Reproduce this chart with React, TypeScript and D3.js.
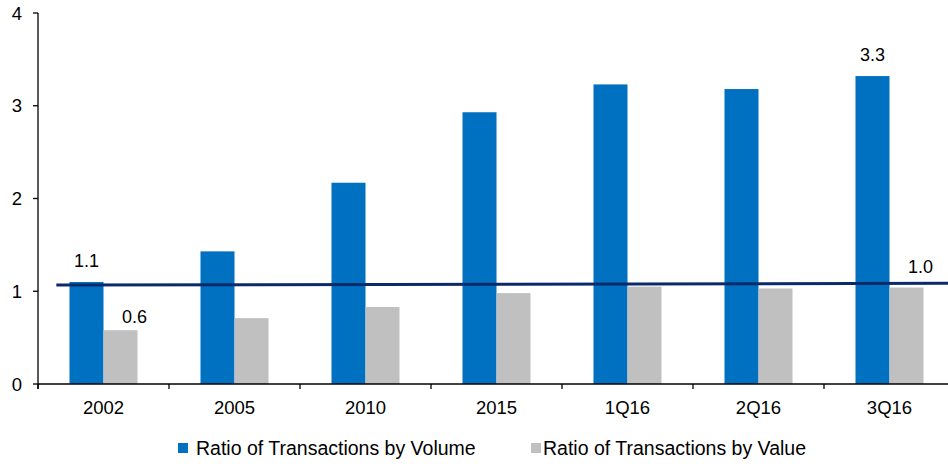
import React, { useEffect, useRef } from 'react';
import * as d3 from 'd3';

const categories = ['2002', '2005', '2010', '2015', '1Q16', '2Q16', '3Q16'];
const volumeValues = [1.1, 1.43, 2.17, 2.93, 3.23, 3.18, 3.32];
const valueValues = [0.58, 0.71, 0.83, 0.98, 1.05, 1.03, 1.04];
const seriesNames = ['Ratio of Transactions by Volume', 'Ratio of Transactions by Value'];
const seriesColors = ['#0070C0', '#C0C0C0'];
const yTicks = [0, 1, 2, 3, 4];
const trendValues = [1.067, 1.085];
const labelledCategories = ['2002', '3Q16'];

const W = 948;
const H = 464;

const App = () => {
    const ref = useRef<SVGSVGElement>(null);

    useEffect(() => {
        document.body.style.margin = '0';
        const svg = d3.select(ref.current);
        svg.selectAll('*').remove();

        const left = 38;
        const step = 131;
        const x0 = d3.scaleBand().domain(categories).range([left, left + step * categories.length]);
        const x1 = d3.scaleBand().domain(seriesNames).range([0, x0.bandwidth()]).paddingOuter(0.926);
        const y = d3.scaleLinear().domain([0, 4]).range([384, 13]);

        const rows = categories.map((c, i) => ({ cat: c, vals: [volumeValues[i], valueValues[i]] }));

        const font = 'Liberation Sans, Arial, sans-serif';

        // bars
        const groups = svg.append('g').selectAll('g')
            .data(rows)
            .enter()
            .append('g')
            .attr('transform', d => `translate(${x0(d.cat)},0)`);

        groups.selectAll('rect')
            .data(d => d.vals.map((v, k) => ({ v, k })))
            .enter()
            .append('rect')
            .attr('x', d => x1(seriesNames[d.k]) as number)
            .attr('y', d => y(d.v))
            .attr('width', x1.bandwidth())
            .attr('height', d => y(0) - y(d.v))
            .attr('fill', d => seriesColors[d.k]);

        // value labels
        groups.filter(d => labelledCategories.includes(d.cat))
            .selectAll('text')
            .data(d => d.vals.map((v, k) => ({ v, k })))
            .enter()
            .append('text')
            .attr('text-anchor', 'middle')
            .attr('x', d => (x1(seriesNames[d.k]) as number) + x1.bandwidth() / 2 + (d.k === 1 ? 14 : 0))
            .attr('y', d => y(d.v) - (d.k === 1 && d.v < 0.8 ? 7 : 15))
            .style('font-family', font)
            .style('font-size', '18px')
            .attr('fill', '#000')
            .text(d => d.v.toFixed(1));

        // trend line
        const xStart = (x0(categories[0]) as number) + x0.bandwidth() * 0.14;
        const tx = d3.scaleLinear().domain([0, trendValues.length - 1]).range([xStart, W]);
        svg.append('path')
            .datum(trendValues)
            .attr('d', d3.line<number>().x((d, i) => tx(i)).y(d => y(d)))
            .attr('fill', 'none')
            .attr('stroke', '#0C2A6A')
            .attr('stroke-width', 3);

        // y axis
        const yAxis = svg.append('g');
        yAxis.append('line')
            .attr('x1', left).attr('x2', left)
            .attr('y1', y(4)).attr('y2', y(0) + 5)
            .attr('stroke', '#000').attr('stroke-width', 1.3);
        yAxis.selectAll('.tick')
            .data(yTicks)
            .enter()
            .append('line')
            .attr('x1', left - 5).attr('x2', left)
            .attr('y1', d => y(d)).attr('y2', d => y(d))
            .attr('stroke', '#000').attr('stroke-width', 1.3);
        yAxis.selectAll('text')
            .data(yTicks)
            .enter()
            .append('text')
            .attr('x', 22)
            .attr('y', d => y(d) + 6.5)
            .attr('text-anchor', 'end')
            .style('font-family', font)
            .style('font-size', '18.5px')
            .text(d => d);

        // x axis
        const xAxis = svg.append('g');
        xAxis.append('line')
            .attr('x1', left).attr('x2', left + step * categories.length)
            .attr('y1', y(0)).attr('y2', y(0))
            .attr('stroke', '#000').attr('stroke-width', 1.3);
        xAxis.selectAll('.tick')
            .data(categories)
            .enter()
            .append('line')
            .attr('x1', d => x0(d) as number).attr('x2', d => x0(d) as number)
            .attr('y1', y(0)).attr('y2', y(0) + 5)
            .attr('stroke', '#000').attr('stroke-width', 1.3);
        xAxis.selectAll('text')
            .data(categories)
            .enter()
            .append('text')
            .attr('x', d => (x0(d) as number) + x0.bandwidth() / 2)
            .attr('y', 414)
            .attr('text-anchor', 'middle')
            .style('font-family', font)
            .style('font-size', '18.5px')
            .text(d => d);

        // legend
        const legendX = [178, 531];
        const legend = svg.append('g').selectAll('g')
            .data(seriesNames)
            .enter()
            .append('g')
            .attr('transform', (d, i) => `translate(${legendX[i]},443)`);
        legend.append('rect')
            .attr('width', 10).attr('height', 10)
            .attr('fill', (d, i) => seriesColors[i]);
        legend.append('text')
            .attr('x', (d, i) => (i === 0 ? 18 : 12))
            .attr('y', 11.5)
            .style('font-family', font)
            .style('font-size', '19.5px')
            .text(d => d);
    }, []);

    return <svg ref={ref} width={W} height={H} style={{ display: 'block', background: '#fff' }}></svg>;
};

export default App;
